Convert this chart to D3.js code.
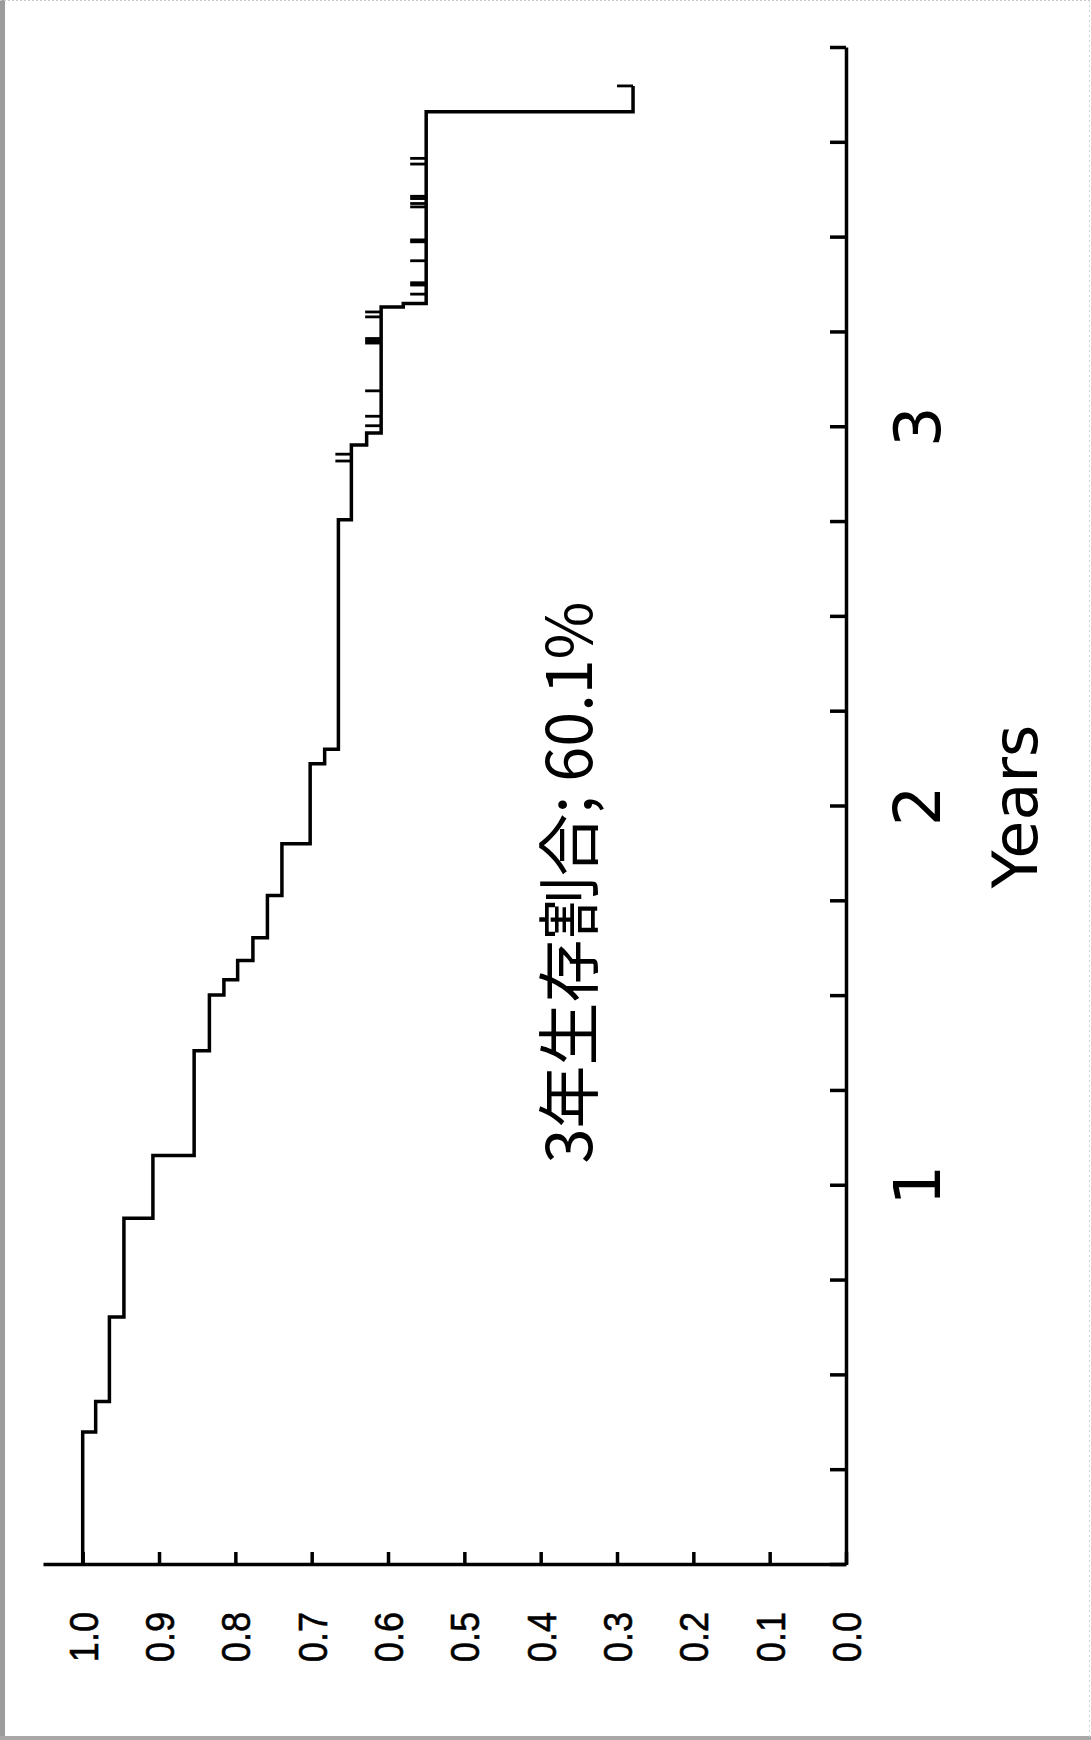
<!DOCTYPE html>
<html>
<head>
<meta charset="utf-8">
<script src="https://cdn.jsdelivr.net/npm/d3@7"></script>
<style>
  body { margin: 0; background: #fff; }
  svg { display: block; }
</style>
</head>
<body>
<div id="chart"></div>
<script>
// Kaplan-Meier curve, values (years / survival after each drop)
const dropTimes = [0.351, 0.431, 0.654, 0.914, 1.080, 1.356, 1.503, 1.543, 1.594, 1.654,
                   1.765, 1.902, 2.113, 2.151, 2.756, 2.953, 2.985, 3.317, 3.326, 3.832];
const survival  = [0.983, 0.965, 0.946, 0.908, 0.854, 0.834, 0.815, 0.797, 0.777, 0.758,
                   0.739, 0.702, 0.683, 0.665, 0.648, 0.628, 0.609, 0.580, 0.550, 0.279];
// censored observations (tick marks)
const censorTimes = [2.911, 2.929, 3.004, 3.029, 3.096, 3.222, 3.228, 3.234, 3.291, 3.304,
                     3.351, 3.375, 3.381, 3.439, 3.489, 3.494, 3.581, 3.590, 3.603, 3.609,
                     3.694, 3.709, 3.900];
const lastTime = 3.90;

const yearTicks = d3.range(0, 4.001, 0.25);
const yearLabels = [1, 2, 3];
const survTicks = d3.range(0, 11).map(d => d / 10);
const annotation = "3年生存割合; 60.1%";
const xTitle = "Years";

const W = 1091, H = 1740;

const svgEl = d3.select("#chart").append("svg")
    .attr("width", W)
    .attr("height", H);

svgEl.append("rect").attr("width", W).attr("height", H).attr("fill", "#fff");

// scanned page edges
svgEl.append("rect").attr("x", 0).attr("y", 0).attr("width", 5).attr("height", H).attr("fill", "#9c9c9c");
svgEl.append("rect").attr("x", 0).attr("y", H - 4).attr("width", W).attr("height", 4).attr("fill", "#a8a8a8");
svgEl.append("line").attr("x1", 0).attr("x2", W).attr("y1", 0.5).attr("y2", 0.5)
    .attr("stroke", "#c8c8c8").attr("stroke-dasharray", "2,2");
svgEl.append("line").attr("x1", W - 1.5).attr("x2", W - 1.5).attr("y1", 0).attr("y2", H)
    .attr("stroke", "#d4d4d4").attr("stroke-dasharray", "2,3");

// whole plot is drawn upright then turned 90deg counter-clockwise
const g = svgEl.append("g")
    .attr("transform", `translate(0,${H}) rotate(-90)`);

const x = d3.scaleLinear().domain([0, 4]).range([175, 1692]);
const y = d3.scaleLinear().domain([0, 1.052]).range([846, 43]);

// time axis
const xAxis = g.append("g")
    .attr("transform", `translate(0,${y(0)})`)
    .call(d3.axisBottom(x)
        .tickValues(yearTicks)
        .tickSizeInner(-16)
        .tickSizeOuter(0)
        .tickFormat(d => yearLabels.includes(d) ? d : ""));

xAxis.selectAll("text")
    .attr("dy", null)
    .attr("y", 94)
    .attr("font-family", "'DejaVu Sans', sans-serif")
    .attr("font-size", 64)
    .attr("fill", "#000");

// survival axis
const yAxis = g.append("g")
    .attr("transform", `translate(${x(0)},0)`)
    .call(d3.axisLeft(y)
        .tickValues(survTicks)
        .tickSizeInner(-13)
        .tickSizeOuter(0)
        .tickFormat(d3.format(".1f")));

yAxis.selectAll("text")
    .attr("x", -47 / 0.88)
    .attr("dy", "0.35em")
    .attr("transform", "scale(0.88,1)")
    .attr("font-family", "'Liberation Sans', Arial, sans-serif")
    .attr("font-size", 41)
    .attr("stroke", "#000")
    .attr("stroke-width", 0.6)
    .attr("fill", "#000");

g.selectAll(".domain, .tick line")
    .attr("stroke", "#000")
    .attr("stroke-width", 3.5);

// curve
const pts = [[0, 1]].concat(dropTimes.map((t, i) => [t, survival[i]]));
pts.push([lastTime, survival[survival.length - 1]]);

const line = d3.line()
    .x(d => x(d[0]))
    .y(d => y(d[1]))
    .curve(d3.curveStepAfter);

g.append("path")
    .datum(pts)
    .attr("d", line)
    .attr("fill", "none")
    .attr("stroke", "#000")
    .attr("stroke-width", 3.5);

function survAt(t) {
    let s = 1;
    dropTimes.forEach((dt, i) => { if (dt <= t) s = survival[i]; });
    return s;
}

g.selectAll(".censor")
    .data(censorTimes)
    .join("line")
    .attr("class", "censor")
    .attr("x1", d => x(d)).attr("x2", d => x(d))
    .attr("y1", d => y(survAt(d)))
    .attr("y2", d => y(survAt(d)) - 16)
    .attr("stroke", "#000")
    .attr("stroke-width", 2.8);

// annotation and axis title
g.append("text")
    .attr("x", x(1.80))
    .attr("y", y(0.362))
    .attr("dy", "0.36em")
    .attr("text-anchor", "middle")
    .attr("font-family", "'Noto Sans CJK JP', sans-serif")
    .attr("font-size", 63)
    .attr("fill", "#000")
    .text(annotation);

g.append("text")
    .attr("x", x(2))
    .attr("y", 1037)
    .attr("text-anchor", "middle")
    .attr("font-family", "'DejaVu Sans', sans-serif")
    .attr("font-size", 62)
    .attr("fill", "#000")
    .text(xTitle);
</script>
</body>
</html>
